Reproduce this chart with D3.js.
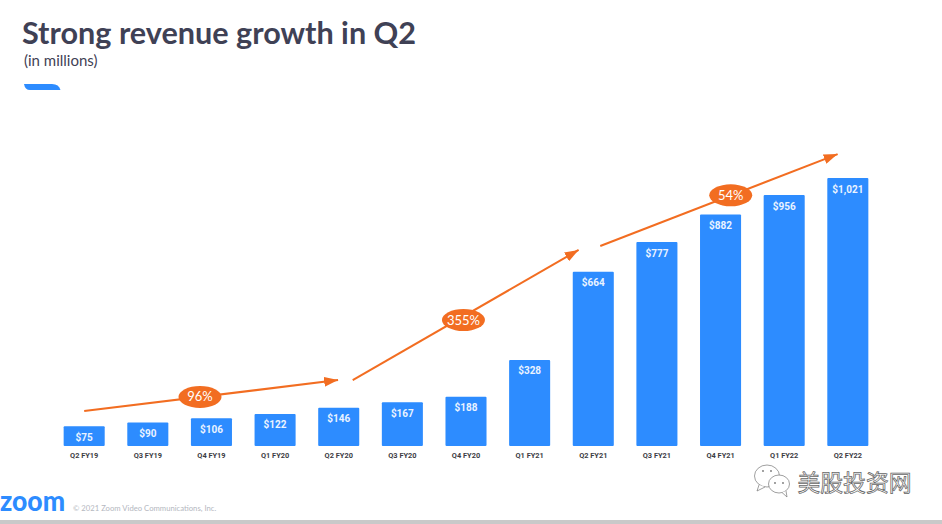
<!DOCTYPE html>
<html><head><meta charset="utf-8">
<script src="https://cdn.jsdelivr.net/npm/d3@7/dist/d3.min.js"></script>
<style>html,body{margin:0;padding:0;background:#fff;overflow:hidden}svg{display:block}</style>
</head><body><svg id="c" width="942" height="524"></svg>
<script>
const categories=["Q2 FY19","Q3 FY19","Q4 FY19","Q1 FY20","Q2 FY20","Q3 FY20","Q4 FY20","Q1 FY21","Q2 FY21","Q3 FY21","Q4 FY21","Q1 FY22","Q2 FY22"];
const revenue=[75,90,106,122,146,167,188,328,664,777,882,956,1021];
const valueLabels=["$75","$90","$106","$122","$146","$167","$188","$328","$664","$777","$882","$956","$1,021"];
// growth arrows, in category-index / revenue units
const growthLabels=["96%","355%","54%"];
const arrowStartIdx=[0,4.22,8.11];
const arrowStartVal=[133,251,762];
const arrowEndIdx=[3.99,7.77,11.84];
const arrowEndVal=[251,747,1112];
const badgeIdx=[1.82,5.96,10.16];
const badgeVal=[187,480,955];

const svg=d3.select("#c");
const BLUE="#2d8cff",ORANGE="#f26d21",INK="#3f4155";
const x=d3.scaleBand().domain(categories).range([52.2,879.8]).paddingInner(0.355).paddingOuter(0.18);
const y=d3.scaleLinear().domain([0,1021]).range([446,178]);
const xi=d3.scaleLinear().domain([0,12]).range([x(categories[0])+x.bandwidth()/2,x(categories[12])+x.bandwidth()/2]);

svg.append("rect").attr("x",0).attr("y",520).attr("width",942).attr("height",4).attr("fill","#c9c9c9");

svg.append("text").attr("x",22).attr("y",44).attr("font-family","Lato").attr("font-weight",700).attr("font-size",30.6).attr("fill",INK).text("Strong revenue growth in Q2");
svg.append("text").attr("x",24).attr("y",66).attr("font-family","Lato").attr("font-size",15).attr("fill",INK).text("(in millions)");
svg.append("path").attr("d","M24 84 H52 Q59 84 60.5 90 H30 Q25 90 24 84 Z").attr("fill",BLUE);

const defs=svg.append("defs");
defs.append("marker").attr("id","ah").attr("viewBox","0 0 14 10").attr("refX",14).attr("refY",5)
 .attr("markerUnits","userSpaceOnUse").attr("markerWidth",14).attr("markerHeight",10).attr("orient","auto")
 .append("path").attr("d","M0 0 L14 5 L0 10 Z").attr("fill",ORANGE);

svg.append("g").selectAll("rect").data(revenue).join("rect")
 .attr("x",(d,i)=>x(categories[i])).attr("y",d=>y(d)).attr("width",x.bandwidth())
 .attr("height",d=>y(0)-y(d)).attr("rx",1).attr("fill",BLUE);
svg.append("g").selectAll("text").data(revenue).join("text")
 .attr("x",(d,i)=>x(categories[i])+x.bandwidth()/2).attr("y",d=>y(d)+14.5)
 .attr("text-anchor","middle").attr("font-family","Roboto").attr("font-weight",700).attr("font-size",10)
 .attr("fill","#eaf3ff").text((d,i)=>valueLabels[i]);

const axis=svg.append("g").attr("transform","translate(0,446)").call(d3.axisBottom(x).tickSize(0).tickPadding(6.5));
axis.select(".domain").remove();
axis.selectAll("text").attr("font-family","Roboto").attr("font-weight",700).attr("font-size",7.4).attr("fill","#3c3c44");

svg.append("g").selectAll("line").data(growthLabels).join("line")
 .attr("x1",(d,i)=>xi(arrowStartIdx[i])).attr("y1",(d,i)=>y(arrowStartVal[i]))
 .attr("x2",(d,i)=>xi(arrowEndIdx[i])).attr("y2",(d,i)=>y(arrowEndVal[i]))
 .attr("stroke",ORANGE).attr("stroke-width",2).attr("marker-end","url(#ah)");
const b=svg.append("g").selectAll("g").data(growthLabels).join("g")
 .attr("transform",(d,i)=>`translate(${xi(badgeIdx[i])},${y(badgeVal[i])})`);
b.append("ellipse").attr("rx",21.5).attr("ry",11).attr("fill",ORANGE);
b.append("text").attr("y",4.5).attr("text-anchor","middle").attr("font-family","Lato").attr("font-size",13).attr("fill","#fff").text(d=>d);

svg.append("text").attr("x",0).attr("y",511).attr("font-family","Lato").attr("font-weight",900).attr("font-size",29).attr("textLength",65).attr("lengthAdjust","spacingAndGlyphs").attr("fill",BLUE).text("zoom");
svg.append("text").attr("x",73).attr("y",511).attr("font-family","Lato").attr("font-size",7.7).attr("fill","#b4b7c0").text("© 2021 Zoom Video Communications, Inc.");

// watermark
const wm=svg.append("g").attr("fill","#fff").attr("stroke","#777").attr("stroke-width",0.7).attr("stroke-linejoin","round");
wm.append("ellipse").attr("cx",767).attr("cy",476).attr("rx",12.5).attr("ry",11);
wm.append("path").attr("d","M759 485 L757 491 L765 487");
wm.append("ellipse").attr("cx",779).attr("cy",484).attr("rx",10.5).attr("ry",9);
wm.append("path").attr("d","M782 492.5 L787 497 L786 491");
const wmDots=[[763,471],[771,471],[775,483],[783,483]];
svg.append("g").selectAll("circle").data(wmDots).join("circle").attr("cx",d=>d[0]).attr("cy",d=>d[1]).attr("r",0.9).attr("fill","#777");
svg.append("text").attr("x",797.5).attr("y",491).attr("font-family","Noto Sans CJK SC").attr("font-size",22.8).attr("fill","#fff").attr("stroke","#666").attr("stroke-width",0.75).text("美股投资网");
</script></body></html>
